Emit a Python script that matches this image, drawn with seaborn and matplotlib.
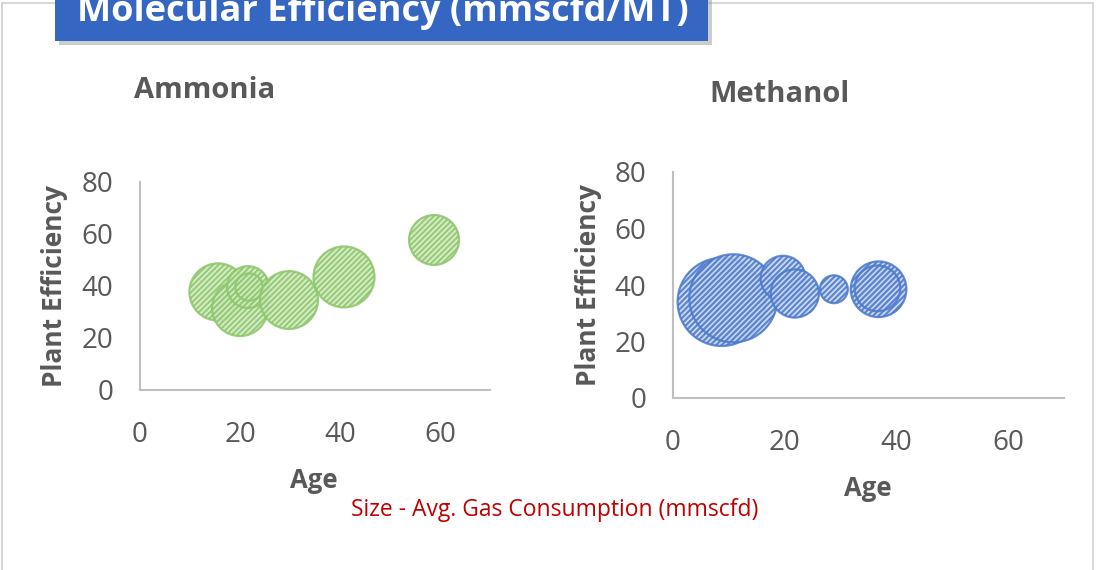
import matplotlib
matplotlib.use("Agg")
import matplotlib.pyplot as plt
import seaborn as sns
import pandas as pd
from matplotlib.patches import Rectangle

# ---- data ----
amm_age = [15.6, 20.0, 21.6, 21.8, 29.8, 40.8, 58.8]
amm_eff = [37.7, 31.5, 39.6, 39.6, 34.6, 43.5, 57.7]
amm_gas = [88, 84, 47, 20, 90, 100, 67]

met_age = [8.7, 10.8, 19.7, 21.8, 28.8, 36.8, 36.6]
met_eff = [34.0, 35.3, 42.4, 37.0, 38.5, 38.5, 38.8]
met_gas = [100, 100, 26, 30, 10, 40, 27]

x_ticks = [0, 20, 40, 60]
y_ticks = [0, 20, 40, 60, 80]

sns.set_theme(style="white")
plt.rcParams['font.family'] = ['Open Sans', 'DejaVu Sans']
plt.rcParams['hatch.linewidth'] = 1.6

W, H = 1096, 570
fig = plt.figure(figsize=(W / 100, H / 100), dpi=100)

# outer frame
fig.patches.append(Rectangle((2 / W, -0.01), (1093 - 2) / W, (H - 3) / H + 0.01,
                             transform=fig.transFigure, fill=False,
                             edgecolor="#d0d0d0", linewidth=1.2, zorder=0))

# title banner with shadow
fig.patches.append(Rectangle((59 / W, 1 - 45 / H), (708 - 55) / W, 45 / H + 0.02,
                             transform=fig.transFigure, facecolor="#9a9a9a",
                             edgecolor="none", alpha=0.5, zorder=1))
fig.patches.append(Rectangle((55 / W, 1 - 41 / H), (708 - 55) / W, 41 / H + 0.02,
                             transform=fig.transFigure, facecolor="#3566c1",
                             edgecolor="none", zorder=2))
fig.text(383 / W, 1 - 12 / H, "Molecular Efficiency (mmscfd/MT)", color="white",
         fontsize=26, fontweight="bold", ha="center", va="center", zorder=3)

grey = "#595959"
spine_c = "#bfbfbf"

def make_panel(rect, ages, effs, gas, face, edge, smax, title, title_xy,
               xlabel_xy, ylabel_px):
    ax = fig.add_axes(rect)
    df = pd.DataFrame({"Age": ages, "Eff": effs, "Gas": gas})
    sns.scatterplot(data=df, x="Age", y="Eff", size="Gas", sizes=(0, smax),
                    size_norm=(0, max(gas)), legend=False, ax=ax,
                    color=face, edgecolor=edge, linewidth=1.6, hatch="//////",
                    alpha=0.85)
    ax.set_xlim(0, 70)
    ax.set_ylim(0, 80)
    ax.set_xticks(x_ticks)
    ax.set_yticks(y_ticks)
    ax.tick_params(axis="both", labelsize=20, labelcolor=grey, length=0)
    ax.tick_params(axis="x", pad=22)
    ax.tick_params(axis="y", pad=19)
    for s in ["top", "right"]:
        ax.spines[s].set_visible(False)
    for s in ["left", "bottom"]:
        ax.spines[s].set_color(spine_c)
        ax.spines[s].set_linewidth(1.5)
    ax.set_xlabel("")
    ax.set_ylabel("Plant Efficiency", fontsize=19, fontweight="bold", color=grey,
                  va="center")
    ax_w_px = rect[2] * W
    ax.yaxis.set_label_coords(-(rect[0] * W - ylabel_px) / ax_w_px, 0.5)
    fig.text(title_xy[0] / W, 1 - title_xy[1] / H, title, fontsize=21,
             fontweight="bold", color=grey, ha="center", va="center")
    fig.text(xlabel_xy[0] / W, 1 - xlabel_xy[1] / H, "Age", fontsize=18.5,
             fontweight="bold", color=grey, ha="center", va="center")
    ax.patch.set_alpha(0)
    return ax

make_panel([140 / W, (H - 390) / H, 350 / W, 208 / H],
           amm_age, amm_eff, amm_gas, "#d5ebc6", "#8cc66a", 1929,
           "Ammonia", (205, 90), (314, 480), 55)
make_panel([673 / W, (H - 398) / H, 391 / W, 226 / H],
           met_age, met_eff, met_gas, "#c9d6ef", "#4a78cc", 4014,
           "Methanol", (779, 95), (868, 488), 588)

fig.text(555 / W, 1 - 510 / H, "Size - Avg. Gas Consumption (mmscfd)",
         fontsize=16.5, color="#c00000", ha="center", va="center")

fig.savefig("out.png", dpi=100)
